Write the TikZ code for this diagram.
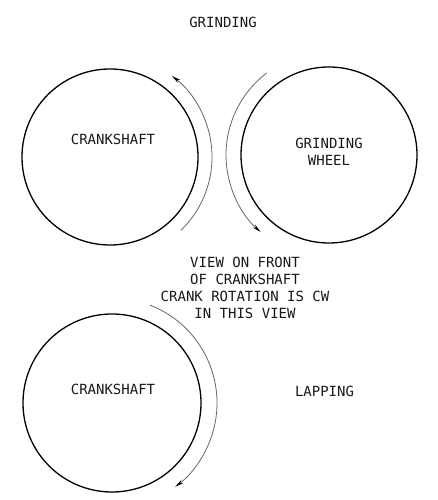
\documentclass[tikz,border=0pt]{standalone}
\usepackage{fontspec}
\setmonofont{DejaVu Sans Mono}
\usetikzlibrary{arrows.meta}
\begin{document}
\begin{tikzpicture}[x=1pt,y=1pt,
  wheel/.style={circle,draw=black,line width=1.3pt,inner sep=0pt,minimum size=#1},
  lbl/.style={font=\ttfamily\fontsize{14}{17}\selectfont,text=black!90,inner sep=0pt,align=center},
  rot/.style={draw=black!60,line width=0.8pt,-{Stealth[length=9pt,width=3.8pt,black]}}]
\useasboundingbox (0,0) rectangle (438,500);
% circles
\node[wheel=176pt] (c1) at (110,343) {};
\node[wheel=176pt] (c2) at (329,345) {};
\node[wheel=178pt] (c3) at (112,97) {};
% labels
\node[lbl] (title) at (223,478) {GRINDING};
\node[lbl] (t1) at (113,361) {CRANKSHAFT};
\node[lbl] (t2) at (329,348.5) {GRINDING\\WHEEL};
\node[lbl] (t3) at (245,212.5) {VIEW ON FRONT\\OF CRANKSHAFT\\CRANK ROTATION IS CW\\IN THIS VIEW};
\node[lbl] (t4) at (113,111) {CRANKSHAFT};
\node[lbl] (t5) at (324.5,108.3) {LAPPING};
% rotation arrows
\draw[rot] ([shift={(-46:102)}]c1.center) arc[start angle=-46,end angle=52.6,radius=102];
\draw[rot] ([shift={(127.3:103)}]c2.center) arc[start angle=127.3,end angle=228.4,radius=103];
\draw[rot] ([shift={(68.8:105)}]c3.center) arc[start angle=68.8,end angle=-53,radius=105];
\end{tikzpicture}
\end{document}
